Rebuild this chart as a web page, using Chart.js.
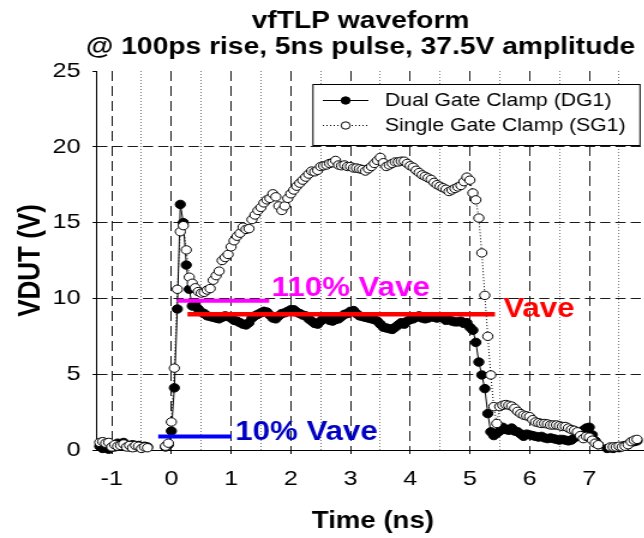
<!DOCTYPE html>
<html>
<head>
<meta charset="utf-8">
<title>vfTLP waveform</title>
<script src="https://cdn.jsdelivr.net/npm/chart.js@4.4.1/dist/chart.umd.min.js"></script>
<style>
  html, body { margin: 0; padding: 0; background: #fff; overflow: hidden; }
  #frame { width: 644px; height: 538px; overflow: hidden; position: relative; }
  /* the plot is laid out narrow and widened on screen */
  #wrap { width: 546px; height: 538px; transform: scaleX(1.2); transform-origin: 0 0; }
</style>
</head>
<body>
<div id="frame"><div id="wrap"><canvas id="chart"></canvas></div></div>
<script>
'use strict';

// scope time base (ns)
const timeNs = [
  -1.20, -1.15, -1.10, -1.05, -1.00, -0.95, -0.90, -0.85, -0.80, -0.75,
  -0.70, -0.65, -0.60, -0.55, -0.50, -0.45, -0.40, -0.35, -0.30, -0.25,
  -0.20, -0.15, -0.10, -0.05, 0.00, 0.05, 0.10, 0.15, 0.20, 0.25,
  0.30, 0.35, 0.40, 0.45, 0.50, 0.55, 0.60, 0.65, 0.70, 0.75,
  0.80, 0.85, 0.90, 0.95, 1.00, 1.05, 1.10, 1.15, 1.20, 1.25,
  1.30, 1.35, 1.40, 1.45, 1.50, 1.55, 1.60, 1.65, 1.70, 1.75,
  1.80, 1.85, 1.90, 1.95, 2.00, 2.05, 2.10, 2.15, 2.20, 2.25,
  2.30, 2.35, 2.40, 2.45, 2.50, 2.55, 2.60, 2.65, 2.70, 2.75,
  2.80, 2.85, 2.90, 2.95, 3.00, 3.05, 3.10, 3.15, 3.20, 3.25,
  3.30, 3.35, 3.40, 3.45, 3.50, 3.55, 3.60, 3.65, 3.70, 3.75,
  3.80, 3.85, 3.90, 3.95, 4.00, 4.05, 4.10, 4.15, 4.20, 4.25,
  4.30, 4.35, 4.40, 4.45, 4.50, 4.55, 4.60, 4.65, 4.70, 4.75,
  4.80, 4.85, 4.90, 4.95, 5.00, 5.05, 5.10, 5.15, 5.20, 5.25,
  5.30, 5.35, 5.40, 5.45, 5.50, 5.55, 5.60, 5.65, 5.70, 5.75,
  5.80, 5.85, 5.90, 5.95, 6.00, 6.05, 6.10, 6.15, 6.20, 6.25,
  6.30, 6.35, 6.40, 6.45, 6.50, 6.55, 6.60, 6.65, 6.70, 6.75,
  6.80, 6.85, 6.90, 6.95, 7.00, 7.05, 7.10, 7.15, 7.20, 7.25,
  7.30, 7.35, 7.40, 7.45, 7.50, 7.55, 7.60, 7.65, 7.70, 7.75,
  7.80
];

// Dual Gate Clamp (DG1), volts across the DUT
const dg1Volts = [
  0.25, 0.10, 0.30, 0.05, 0.35, 0.20, 0.45, 0.30, 0.50, 0.25,
  0.20, 0.35, 0.20, 0.30, 0.15, 0.25, 0.20, null, null, null,
  null, null, 0.20, 0.35, 1.25, 4.10, 9.30, 16.20, 15.00, 12.20,
  10.60, 9.50, 9.60, 9.30, 9.10, 9.00, 8.85, 8.80, 8.75, 8.70,
  8.65, 8.75, 8.85, 8.80, 8.70, 8.55, 8.50, 8.40, 8.30, 8.25,
  8.40, 8.70, 8.85, 8.95, 9.05, 9.15, 9.10, 8.90, 8.70, 8.65,
  8.85, 9.00, 9.05, 9.15, 9.25, 9.25, 9.10, 9.00, 8.90, 8.85,
  8.65, 8.50, 8.35, 8.30, 8.50, 8.70, 8.70, 8.55, 8.50, 8.60,
  8.65, 8.80, 8.95, 9.00, 9.15, 9.20, 9.00, 8.85, 8.80, 8.75,
  8.70, 8.65, 8.60, 8.50, 8.30, 8.10, 8.05, 8.00, 7.95, 8.10,
  8.25, 8.40, 8.30, 8.50, 8.60, 8.65, 8.75, 8.85, 8.70, 8.65,
  8.70, 8.80, 8.75, 8.70, 8.80, 8.70, 8.55, 8.60, 8.50, 8.45,
  8.45, 8.50, 8.35, 8.40, 8.10, 7.90, 7.10, 5.80, 4.95, 4.05,
  2.40, 1.20, 0.95, 1.10, 1.25, 1.50, 1.35, 1.30, 1.45, 1.25,
  1.20, 1.05, 0.90, 1.05, 1.00, 0.95, 0.90, 0.85, 0.90, 0.80,
  0.75, 0.80, 0.75, 0.70, 0.65, 0.70, 0.65, 0.60, 0.65, 0.80,
  0.90, 1.00, 1.30, 1.45, 1.50, 1.00, 0.60, 0.35, null, null,
  0.10, 0.15, 0.10, 0.20, 0.15, 0.25, 0.30, 0.35, 0.50, 0.55,
  0.60
];

// Single Gate Clamp (SG1)
const sg1Volts = [
  0.50, 0.55, 0.45, 0.50, 0.20, 0.35, 0.25, 0.30, 0.40, 0.20,
  0.30, 0.15, 0.30, 0.25, 0.10, 0.20, 0.15, null, null, null,
  null, null, 0.25, 0.45, 1.85, 5.40, 10.60, 14.40, 14.80, 13.20,
  11.40, 11.00, 10.70, 10.45, 10.35, 10.40, 10.55, 10.65, 11.20, 11.50,
  11.80, 12.50, 12.70, 12.90, 13.40, 13.80, 14.10, 14.30, 14.70, 14.55,
  14.60, 15.20, 15.50, 15.80, 16.00, 16.30, 16.50, 16.60, 16.90, 16.70,
  16.10, 15.80, 16.10, 16.60, 16.90, 17.15, 17.40, 17.60, 17.80, 18.00,
  18.20, 18.40, 18.35, 18.45, 18.70, 18.75, 18.80, 18.90, 18.95, 19.10,
  18.80, 18.75, 18.80, 18.70, 18.70, 18.60, 18.60, 18.55, 18.50, 18.40,
  18.55, 18.70, 18.90, 19.10, 19.30, 18.95, 18.70, 18.80, 18.90, 19.00,
  19.00, 19.05, 19.05, 18.90, 18.75, 18.65, 18.45, 18.30, 18.15, 18.05,
  17.95, 17.85, 17.65, 17.50, 17.40, 17.30, 17.20, 17.05, 17.15, 17.25,
  17.35, 17.45, 17.70, 18.00, 17.80, 16.95, 16.50, 15.30, 13.00, 10.20,
  7.50, 4.95, 2.86, 1.75, 2.86, 2.95, 3.00, 2.95, 2.90, 2.75,
  2.55, 2.40, 2.30, 2.25, 2.20, 2.00, 1.85, 1.80, 1.75, 1.75,
  1.72, 1.65, 1.65, 1.65, 1.60, 1.55, 1.55, 1.45, 1.35, 1.30,
  1.20, 0.95, 0.75, 0.90, 0.85, 0.65, 0.45, 0.35, null, null,
  null, 0.20, 0.20, 0.20, 0.25, 0.20, 0.25, 0.35, 0.55, 0.65,
  0.70
];

const xTicks = [-1, -0.5, 0, 0.5, 1, 1.5, 2, 2.5, 3, 3.5, 4, 4.5, 5, 5.5, 6, 6.5, 7, 7.5];
const yTicks = [0, 5, 10, 15, 20, 25];

// average clamp voltage and the levels derived from it
const vAve = 8.95;
const vAveSpan = [0.27, 5.42];
const v110Span = [0.10, 1.64];
const v10Span = [-0.22, 1.01];

const titleLines = ['vfTLP waveform', '@ 100ps rise, 5ns pulse, 37.5V amplitude'];
const seriesNames = ['Dual Gate Clamp (DG1)', 'Single Gate Clamp (SG1)'];

const FONT = '"Liberation Sans", Arial, Helvetica, sans-serif';
Chart.defaults.font.family = FONT;
Chart.defaults.color = '#000';

const MARK = 4.2;

const toPoints = ys => timeNs.map((t, i) => ({ x: t, y: ys[i] }));
const segment = (span, v) => [{ x: span[0], y: v }, { x: span[1], y: v }];

const refLines = [
  { text: '110% Vave', level: 1.1 * vAve, span: v110Span, color: '#ff00ff', textColor: '#ff00ff', at: [1.68, 0.3] },
  { text: 'Vave', level: vAve, span: vAveSpan, color: '#ff0000', textColor: '#ff0000', at: [5.56, -0.15] },
  { text: '10% Vave', level: 0.1 * vAve, span: v10Span, color: '#0000ff', textColor: '#0000c4', at: [1.07, -0.23] }
];

// text on the levels, the two-line title and the boxed legend
const overlay = {
  id: 'overlay',
  afterDraw(chart) {
    const { ctx, scales: { x, y } } = chart;
    ctx.save();

    ctx.fillStyle = '#000';
    ctx.font = 'bold 23.5px ' + FONT;
    ctx.textAlign = 'center';
    ctx.textBaseline = 'alphabetic';
    titleLines.forEach((s, i) => ctx.fillText(s, 300.5, 28 + i * 26));

    refLines.forEach(r => {
      ctx.save();
      ctx.translate(x.getPixelForValue(r.at[0]), y.getPixelForValue(r.level + r.at[1]));
      ctx.scale(0.93, 1);
      ctx.font = 'bold 28px ' + FONT;
      ctx.fillStyle = r.textColor;
      ctx.textAlign = 'left';
      ctx.textBaseline = 'alphabetic';
      ctx.fillText(r.text, 0, 0);
      ctx.restore();
    });

    // legend
    const bx = 260.8, by = 84.5, bw = 272.5, bh = 61;
    ctx.fillStyle = '#fff';
    ctx.fillRect(bx, by, bw, bh);
    ctx.strokeStyle = '#000';
    ctx.lineWidth = 1;
    ctx.strokeRect(bx, by, bw, bh);
    const rows = [100.5, 125.5];
    rows.forEach((ry, i) => {
      ctx.beginPath();
      ctx.setLineDash(i === 0 ? [] : [1, 2]);
      ctx.moveTo(269, ry);
      ctx.lineTo(307, ry);
      ctx.stroke();
      ctx.setLineDash([]);
      ctx.beginPath();
      ctx.arc(288, ry, 3.7, 0, Math.PI * 2);
      ctx.fillStyle = i === 0 ? '#000' : '#fff';
      ctx.fill();
      ctx.stroke();
      ctx.fillStyle = '#000';
      ctx.font = '17.7px ' + FONT;
      ctx.textAlign = 'left';
      ctx.textBaseline = 'middle';
      ctx.fillText(seriesNames[i], 320.8, ry + 1);
    });

    ctx.restore();
  }
};

const isMajor = c => c.tick && Number.isInteger(c.tick.value);

new Chart(document.getElementById('chart'), {
  type: 'scatter',
  data: {
    datasets: [
      ...refLines.map(r => ({
        label: r.text,
        data: segment(r.span, r.level),
        showLine: true,
        borderColor: r.color,
        borderWidth: r.text === 'Vave' ? 4.5 : 4,
        pointRadius: 0
      })),
      {
        label: seriesNames[1],
        data: toPoints(sg1Volts),
        showLine: true,
        spanGaps: false,
        borderColor: '#000',
        borderWidth: 1,
        borderDash: [1, 2],
        pointRadius: MARK,
        pointBackgroundColor: '#fff',
        pointBorderColor: '#000',
        pointBorderWidth: 1,
        clip: false
      },
      {
        label: seriesNames[0],
        data: toPoints(dg1Volts),
        showLine: true,
        spanGaps: false,
        borderColor: '#000',
        borderWidth: 1,
        pointRadius: MARK,
        pointBackgroundColor: '#000',
        pointBorderColor: '#000',
        pointBorderWidth: 1,
        clip: false
      }
    ]
  },
  options: {
    responsive: true,
    maintainAspectRatio: false,
    animation: false,
    events: [],
    layout: { padding: { top: 71, right: 1.3, bottom: 0, left: 0 } },
    plugins: { legend: { display: false }, tooltip: { enabled: false }, title: { display: false } },
    scales: {
      x: {
        type: 'linear',
        min: -1.25,
        max: 8,
        afterBuildTicks: s => { s.ticks = xTicks.map(v => ({ value: v })); },
        afterFit: s => { s.height = 88; },
        grid: {
          color: c => isMajor(c) ? '#1a1a1a' : '#777',
          lineWidth: 1,
          tickLength: 4,
          tickColor: c => isMajor(c) ? '#000' : 'rgba(0,0,0,0)',
          tickBorderDash: []
        },
        border: { display: true, color: '#000', width: 1, dash: c => (c.tick && !Number.isInteger(c.tick.value)) ? [1, 2] : [10, 5] },
        ticks: {
          autoSkip: false,
          maxRotation: 0,
          font: { size: 21 },
          padding: 13,
          callback: v => Number.isInteger(v) ? String(v) : ''
        },
        title: { display: true, text: 'Time (ns)', font: { size: 23, weight: 'bold' }, padding: { top: 0, bottom: 3 } }
      },
      y: {
        type: 'linear',
        min: 0,
        max: 25,
        afterBuildTicks: s => { s.ticks = yTicks.map(v => ({ value: v })); },
        afterFit: s => { s.width = 80.6; },
        grid: {
          color: c => (c.tick && c.tick.value > 0 && c.tick.value < 25) ? '#1a1a1a' : 'rgba(0,0,0,0)',
          lineWidth: 1,
          tickLength: 3.5,
          tickColor: '#000',
          tickBorderDash: []
        },
        border: { display: true, color: '#000', width: 1, dash: [8.5, 4.2] },
        ticks: { font: { size: 21 }, padding: 10 },
        title: { display: true, text: 'VDUT (V)', font: { size: 26, weight: 'bold' }, padding: { top: 10, bottom: 0 } }
      }
    }
  },
  plugins: [overlay]
});
</script>
</body>
</html>
